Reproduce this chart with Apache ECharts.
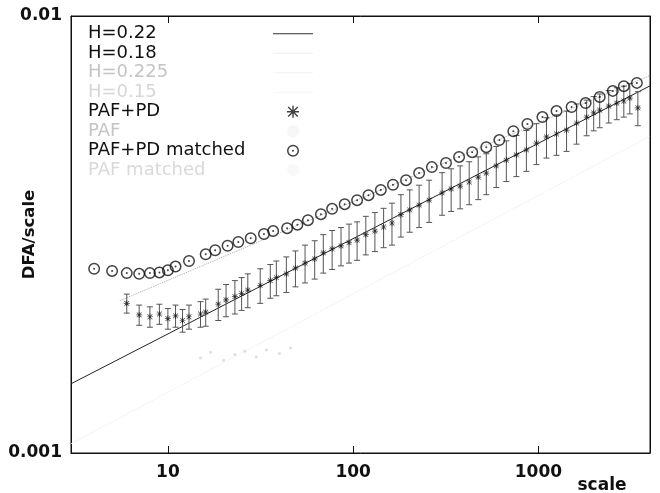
<!DOCTYPE html>
<html>
<head>
<meta charset="utf-8">
<script src="https://cdn.jsdelivr.net/npm/echarts@6/dist/echarts.min.js"></script>
<style>
  body { margin: 0; background: #fff; }
  #dfaChart { width: 660px; height: 493px; }
</style>
</head>
<body>
<div id="dfaChart"></div>
<script>
// PAF+PD 数据点 (scale, DFA/scale) 及误差
var starScale = [6, 7, 8, 9, 10, 11, 12, 13, 15, 16,
    18.7, 20.6, 23, 25, 27, 31.5, 35.7, 38.5, 43.6, 48.8,
    55, 62, 69, 77, 86, 95, 105, 117, 131, 146,
    162, 181, 202, 227, 257, 302, 338, 378, 423, 473,
    523, 592, 671, 760, 861, 975, 1105, 1252, 1418, 1607,
    1821, 1987, 2141, 2395, 2647, 2889, 3113, 3440];
var starVal = [0.00220, 0.00207, 0.00205, 0.00208, 0.00203, 0.00206, 0.00201, 0.00205, 0.00208, 0.00210,
    0.00219, 0.00224, 0.00228, 0.00232, 0.00236, 0.00242, 0.00248, 0.00252, 0.00257, 0.00265,
    0.00272, 0.00278, 0.00287, 0.00293, 0.00298, 0.00303, 0.00307, 0.00316, 0.00322, 0.00329,
    0.00336, 0.00351, 0.00360, 0.00369, 0.00379, 0.00394, 0.00402, 0.00408, 0.00417, 0.00428,
    0.00437, 0.00454, 0.00468, 0.00481, 0.00494, 0.00512, 0.00529, 0.00537, 0.00548, 0.00569,
    0.00587, 0.00600, 0.00609, 0.00622, 0.00632, 0.00639, 0.00649, 0.00616];
var starErr = [0.00011, 0.00011, 0.00011, 0.00011, 0.00011, 0.00012, 0.00012, 0.00013, 0.00014, 0.00015,
    0.00018, 0.00019, 0.0002, 0.0002, 0.00021, 0.00022, 0.00022, 0.00023, 0.00024, 0.00025,
    0.00027, 0.00028, 0.00029, 0.0003, 0.0003, 0.00031, 0.00031, 0.00032, 0.00033, 0.00034,
    0.00037, 0.00039, 0.0004, 0.00041, 0.00042, 0.00044, 0.00045, 0.00046, 0.00047, 0.00048,
    0.00047, 0.00049, 0.0005, 0.00052, 0.00053, 0.00055, 0.00056, 0.00057, 0.00058, 0.0006,
    0.00055, 0.00054, 0.00054, 0.00053, 0.00053, 0.00052, 0.00052, 0.00055];

// PAF+PD matched
var circleScale = [4, 5, 6, 7, 8, 9, 10, 11, 13,
    16, 18, 21, 24, 28, 33, 37, 44, 50,
    57, 67, 77, 90, 105, 121, 141, 164, 193,
    227, 266, 317, 373, 439, 523, 615, 732, 872,
    1051, 1252, 1510, 1797, 2141, 2518, 2889, 3398];
var circleVal = [0.00264, 0.00261, 0.00258, 0.00257, 0.00258, 0.00259, 0.00262, 0.00267, 0.00275,
    0.00285, 0.00291, 0.00298, 0.00304, 0.00310, 0.00317, 0.00322, 0.00327, 0.00333,
    0.00341, 0.00352, 0.00362, 0.00371, 0.00379, 0.00389, 0.00400, 0.00411, 0.00421,
    0.00437, 0.00451, 0.00461, 0.00476, 0.00488, 0.00501, 0.00520, 0.00545, 0.00566,
    0.00587, 0.00606, 0.00619, 0.00632, 0.00653, 0.00674, 0.00691, 0.00703];

// PAF (扫描件里很淡)
var pafScale = [15, 17, 20, 23, 26, 30, 34, 40, 46];
var pafVal = [0.00165, 0.00170, 0.00163, 0.00168, 0.00171, 0.00166, 0.00172, 0.00169, 0.00174];

// 拟合直线端点
var h22Scale = [3, 4000];
var h22Val = [0.00144, 0.00692];
var h18Scale = [5.5, 4000];
var h18Val = [0.00223, 0.00731];
var h225Scale = [3, 4000];
var h225Val = [0.00105, 0.00531];

var legendNames = ['H=0.22', 'H=0.18', 'H=0.225', 'H=0.15', 'PAF+PD', 'PAF', 'PAF+PD matched', 'PAF matched'];
var legendColors = ['#111', '#111', '#c4c4c4', '#d6d6d6', '#111', '#c4c4c4', '#111', '#d9d9d9'];

var xTicks = [10, 100, 1000];
var yTicks = [0.001, 0.01];

function pairs(xs, ys) {
    var out = [];
    for (var i = 0; i < xs.length; i++) out.push([xs[i], ys[i]]);
    return out;
}

var errData = [];
for (var i = 0; i < starScale.length; i++) {
    errData.push([starScale[i], starVal[i] - starErr[i], starVal[i] + starErr[i]]);
}

var starPath = 'path://M0,4.4L10,4.4L10,5.6L0,5.6Z M4.4,0L5.6,0L5.6,10L4.4,10Z M1.4,0.6L9.4,8.6L8.6,9.4L0.6,1.4Z M8.6,0.6L9.4,1.4L1.4,9.4L0.6,8.6Z';
var ringPath = 'path://M0,6A6,6,0,1,0,12,6A6,6,0,1,0,0,6Z M1.5,6A4.5,4.5,0,1,1,10.5,6A4.5,4.5,0,1,1,1.5,6Z M5,6A1,1,0,1,0,7,6A1,1,0,1,0,5,6Z';
var linePath = 'path://M0,0L40,0L40,1L0,1Z';

// 图例样本: 线用细长条, 淡色条目几乎看不见
var legendIcons = [linePath, linePath, linePath, linePath, starPath, 'circle', ringPath, 'circle'];
var legendIconColors = ['#333', '#eeeeee', '#f2f2f2', '#f4f4f4', '#111', '#f4f4f4', '#111', '#f6f6f6'];

var font = 'DejaVu Sans';
function logLabel(v) {
    return String(+v.toPrecision(4));
}

var dfaChart = echarts.init(document.getElementById('dfaChart'));
var dfaOption = {
    animation: false,
    grid: {
        left: 71, right: 10, top: 16, bottom: 40, outerBoundsMode: 'none', containLabel: false,
        show: true, borderColor: '#111', borderWidth: 1
    },
    legend: {
        orient: 'vertical',
        left: 83,
        top: 19,
        align: 'right',
        itemGap: 0,
        itemWidth: 40,
        itemHeight: 12,
        selectedMode: false,
        formatter: function (name) { return '{t|' + name + '}'; },
        textStyle: {
            fontFamily: font, fontSize: 18, color: '#111', lineHeight: 19.5,
            rich: { t: { width: 180, align: 'left', fontFamily: font, fontSize: 18, lineHeight: 19.5 } }
        },
        data: legendNames.map(function (n, k) {
            return {
                name: n, icon: legendIcons[k],
                itemStyle: { color: legendIconColors[k] },
                textStyle: { color: legendColors[k] }
            };
        })
    },
    xAxis: [{
        type: 'log', min: 3, max: 4000, position: 'bottom',
        name: 'scale', nameLocation: 'end', nameGap: -48, nameMoveOverlap: false,
        nameTextStyle: { fontFamily: font, fontSize: 17, fontWeight: 'bold', color: '#111', align: 'center', verticalAlign: 'top', padding: [24, 0, 0, 0] },
        axisLine: { show: true, lineStyle: { color: '#111' } },
        axisTick: { inside: true, length: 7, lineStyle: { color: '#111' } },
        axisLabel: {
            margin: 11, fontFamily: font, fontSize: 17, fontWeight: 'bold', color: '#111',
            showMinLabel: false, showMaxLabel: false,
            formatter: function (v) { return xTicks.indexOf(+v.toPrecision(4)) >= 0 ? logLabel(v) : ''; }
        },
        splitLine: { show: false }
    }, {
        type: 'log', min: 3, max: 4000, position: 'top',
        axisLine: { show: true, lineStyle: { color: '#111' } },
        axisTick: { inside: true, length: 7, lineStyle: { color: '#111' } },
        axisLabel: { show: false },
        splitLine: { show: false }
    }],
    yAxis: [{
        type: 'log', min: 0.001, max: 0.01, position: 'left',
        name: 'DFA/scale', nameLocation: 'middle', nameGap: 33, nameMoveOverlap: false,
        nameTextStyle: { fontFamily: font, fontSize: 16.5, fontWeight: 'bold', color: '#111' },
        axisLine: { show: true, lineStyle: { color: '#111' } },
        axisTick: { inside: true, length: 7, lineStyle: { color: '#111' } },
        axisLabel: {
            margin: 9, fontFamily: font, fontSize: 17, fontWeight: 'bold', color: '#111',
            formatter: function (v) { return yTicks.indexOf(+v.toPrecision(4)) >= 0 ? logLabel(v) : ''; }
        },
        splitLine: { show: false }
    }, {
        type: 'log', min: 0.001, max: 0.01, position: 'right',
        axisLine: { show: true, lineStyle: { color: '#111' } },
        axisTick: { inside: true, length: 7, lineStyle: { color: '#111' } },
        axisLabel: { show: false },
        splitLine: { show: false }
    }],
    series: [{
        name: 'H=0.22', type: 'line', data: pairs(h22Scale, h22Val),
        symbol: 'none', lineStyle: { color: '#222', width: 1 }, itemStyle: { color: '#222' }, z: 2
    }, {
        name: 'H=0.18', type: 'line', data: pairs(h18Scale, h18Val),
        symbol: 'none', lineStyle: { color: '#a8a8a8', width: 1, type: 'dotted' }, itemStyle: { color: '#a8a8a8' }, z: 2
    }, {
        name: 'H=0.225', type: 'line', data: pairs(h225Scale, h225Val),
        symbol: 'none', lineStyle: { color: '#e8e8e8', width: 1, type: 'dotted' }, itemStyle: { color: '#e8e8e8' }, z: 1
    }, {
        name: 'H=0.15', type: 'line', data: [],
        symbol: 'none', lineStyle: { color: '#ececec', width: 1 }, itemStyle: { color: '#ececec' }
    }, {
        name: 'PAF+PD', type: 'scatter', data: pairs(starScale, starVal),
        symbol: starPath, symbolSize: 6, itemStyle: { color: '#111' }, z: 4
    }, {
        name: 'PAF+PD', type: 'custom', data: errData, z: 3,
        encode: { x: 0, y: [1, 2] },
        renderItem: function (params, api) {
            var lo = api.coord([api.value(0), api.value(1)]);
            var hi = api.coord([api.value(0), api.value(2)]);
            var w = 3;
            var st = { stroke: '#555', lineWidth: 1 };
            return {
                type: 'group', children: [
                    { type: 'line', shape: { x1: lo[0], y1: lo[1], x2: hi[0], y2: hi[1] }, style: st },
                    { type: 'line', shape: { x1: lo[0] - w, y1: lo[1], x2: lo[0] + w, y2: lo[1] }, style: st },
                    { type: 'line', shape: { x1: hi[0] - w, y1: hi[1], x2: hi[0] + w, y2: hi[1] }, style: st }
                ]
            };
        }
    }, {
        name: 'PAF', type: 'scatter', data: pairs(pafScale, pafVal),
        symbol: 'circle', symbolSize: 3, itemStyle: { color: '#d6d6d6' }, z: 1
    }, {
        name: 'PAF+PD matched', type: 'scatter', data: pairs(circleScale, circleVal),
        symbol: ringPath, symbolSize: 12, itemStyle: { color: '#111' }, z: 4
    }, {
        name: 'PAF matched', type: 'scatter', data: [],
        symbol: 'circle', symbolSize: 4, itemStyle: { color: '#e0e0e0' }
    }]
};
dfaChart.setOption(dfaOption);
</script>
</body>
</html>
